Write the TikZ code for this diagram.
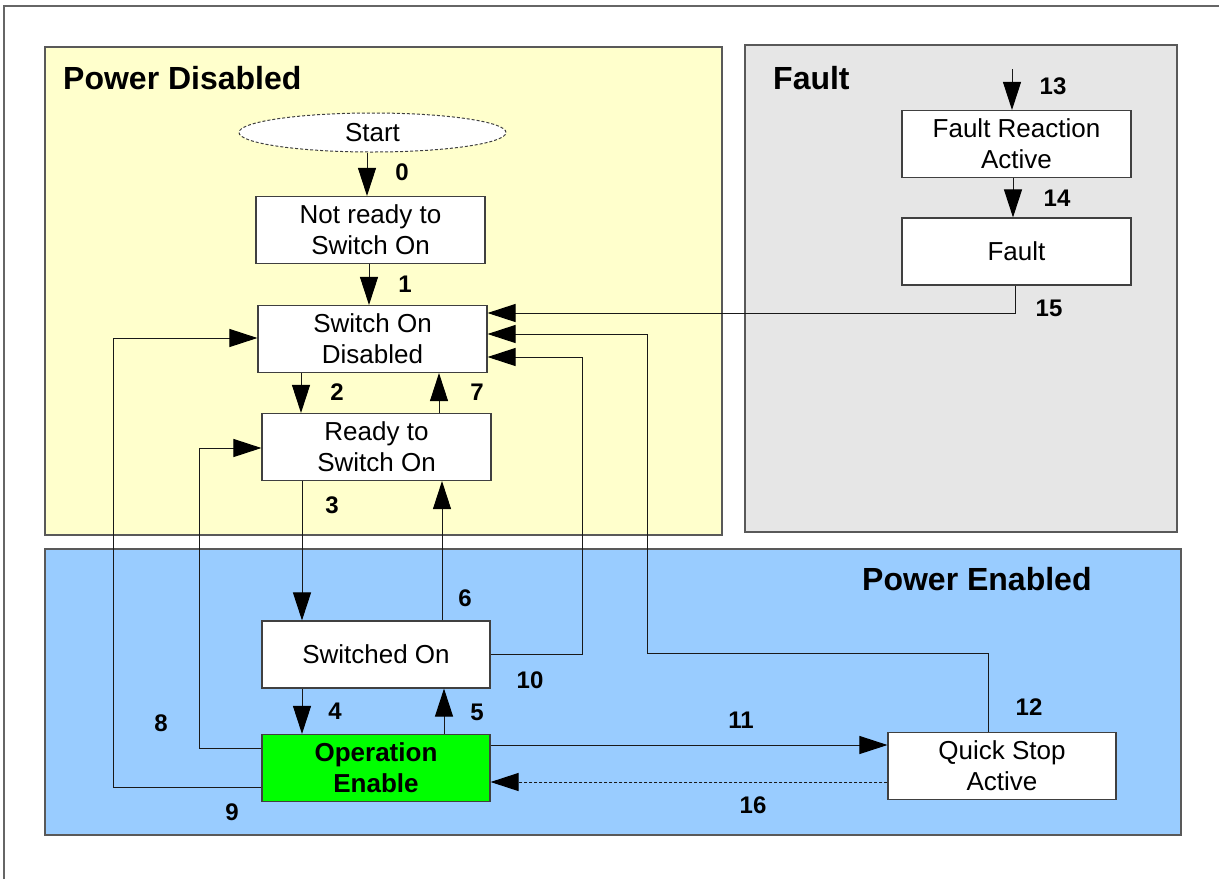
\documentclass[tikz,border=0pt]{standalone}
\usepackage{fontspec}
\setmainfont{Liberation Sans}
\usetikzlibrary{arrows.meta,shapes.geometric}
\definecolor{pdyellow}{HTML}{FFFFCC}
\definecolor{fgray}{HTML}{E6E6E6}
\definecolor{peblue}{HTML}{99CCFF}
\definecolor{opgreen}{HTML}{00FF00}
\tikzset{
  region/.style={draw=black!65, line width=1.2pt},
  title/.style={font=\fontsize{32}{38}\selectfont\bfseries, inner sep=0pt, anchor=base west},
  state/.style={draw=black!75, line width=1.1pt, fill=white, minimum width=229pt, minimum height=67pt,
                inner sep=0pt, align=center, font=\fontsize{26}{31}\selectfont},
  lbl/.style={font=\fontsize{24}{28}\selectfont\bfseries, inner sep=0pt},
  conn/.style={draw=black!90, line width=1pt},
  arr/.style={conn, -{Triangle[length=28pt,width=18pt,fill=black,color=black]}},
}
\begin{document}
\begin{tikzpicture}[x=1pt,y=-1pt]
\useasboundingbox (0,0) rectangle (1219,879);
\fill[white] (0,0) rectangle (1219,879);
% outer frame
\draw[black!60, line width=1.2pt] (4,879) -- (4,6) -- (1219,6);
% regions
\draw[region, fill=pdyellow] (45,47) rectangle (722,535);
\draw[region, fill=fgray] (745,45) rectangle (1177,532);
\draw[region, fill=peblue] (45,549) rectangle (1181,835);
\node[title] (tPD) at (63,89) {Power Disabled};
\node[title] (tF) at (773,89) {Fault};
\node[title] (tPE) at (862,590) {Power Enabled};
% states
\node[ellipse, draw=black!75, dash pattern=on 3pt off 2pt, line width=1pt, fill=white,
      minimum width=267pt, minimum height=39pt, inner sep=0pt, font=\fontsize{26}{30}\selectfont]
      (ST) at (372.5,132.5) {Start};
\node[state] (NR) at (370.5,230) {Not ready to\\Switch On};
\node[state] (SOD) at (372.5,339) {Switch On\\Disabled};
\node[state] (RTSO) at (376.5,447) {Ready to\\Switch On};
\node[state, minimum width=228pt] (SO) at (376,654.5) {Switched On};
\node[state, minimum width=228pt, fill=opgreen, font=\fontsize{26}{31}\selectfont\bfseries] (OE) at (376,768) {Operation\\Enable};
\node[state, minimum width=228pt] (QSA) at (1002,766) {Quick Stop\\Active};
\node[state] (FRA) at (1016.5,144) {Fault Reaction\\Active};
\node[state] (F) at (1016.5,251.5) {Fault};
% helper coordinates
\coordinate (c0) at (367,0);
\coordinate (c1) at (369,0);
\coordinate (c2) at (301,0);
\coordinate (c7) at (439,0);
\coordinate (c3) at (302,0);
\coordinate (c6) at (442,0);
\coordinate (c5) at (444,0);
\coordinate (x8) at (199,0);
\coordinate (x9) at (113,0);
\coordinate (x10) at (582,0);
\coordinate (x12a) at (988,0);
\coordinate (x12b) at (647,0);
\coordinate (x15) at (1015,0);
\coordinate (x13) at (1012,0);
\coordinate (x14) at (1013,0);
\coordinate (y15) at (0,313);
\coordinate (y12) at (0,334);
\coordinate (y10) at (0,357);
\coordinate (y9l) at (0,338);
\coordinate (y8l) at (0,448);
\coordinate (y8) at (0,748);
\coordinate (y9) at (0,787);
\coordinate (y11) at (0,745);
\coordinate (y16) at (0,782);
\coordinate (y12h) at (0,653);
\coordinate (s13) at (1012,69);
% connectors
\draw[arr] (ST.south -| c0) -- (NR.north -| c0);
\draw[arr] (NR.south -| c1) -- (SOD.north -| c1);
\draw[arr] (SOD.south -| c2) -- (RTSO.north -| c2);
\draw[arr] (RTSO.north -| c7) -- (SOD.south -| c7);
\draw[arr] (RTSO.south -| c3) -- (SO.north -| c3);
\draw[arr] (SO.north -| c6) -- (RTSO.south -| c6);
\draw[arr] (SO.south -| c3) -- (OE.north -| c3);
\draw[arr] (OE.north -| c5) -- (SO.south -| c5);
\draw[arr] (OE.west |- y8) -| (x8 |- y8l) -- (RTSO.west |- y8l);
\draw[arr] (OE.west |- y9) -| (x9 |- y9l) -- (SOD.west |- y9l);
\draw[arr] (SO.east) -| (x10 |- y10) -- (SOD.east |- y10);
\draw[arr] (OE.east |- y11) -- (QSA.west |- y11);
\draw[arr] (QSA.north -| x12a) |- (x12b |- y12h) -- (x12b |- y12) -- (SOD.east |- y12);
\draw[arr, dash pattern=on 3pt off 2pt] (QSA.west |- y16) -- (OE.east |- y16);
\draw[arr] (s13) -- (FRA.north -| x13);
\draw[arr] (FRA.south -| x14) -- (F.north -| x14);
\draw[arr] (F.south -| x15) |- (SOD.east |- y15);
% labels
\node[lbl] (l0) at (402,172) {0};
\node[lbl] (l1) at (405,284) {1};
\node[lbl] (l2) at (337,392) {2};
\node[lbl] (l7) at (477,392) {7};
\node[lbl] (l3) at (332,505) {3};
\node[lbl] (l6) at (465,598) {6};
\node[lbl] (l10) at (530,680) {10};
\node[lbl] (l4) at (335,711) {4};
\node[lbl] (l5) at (477,712) {5};
\node[lbl] (l8) at (161,723) {8};
\node[lbl] (l9) at (232,812) {9};
\node[lbl] (l11) at (741,720) {11};
\node[lbl] (l12) at (1029,707) {12};
\node[lbl] (l16) at (753,805) {16};
\node[lbl] (l13) at (1053,86) {13};
\node[lbl] (l14) at (1057,198) {14};
\node[lbl] (l15) at (1049,308) {15};
\end{tikzpicture}
\end{document}
